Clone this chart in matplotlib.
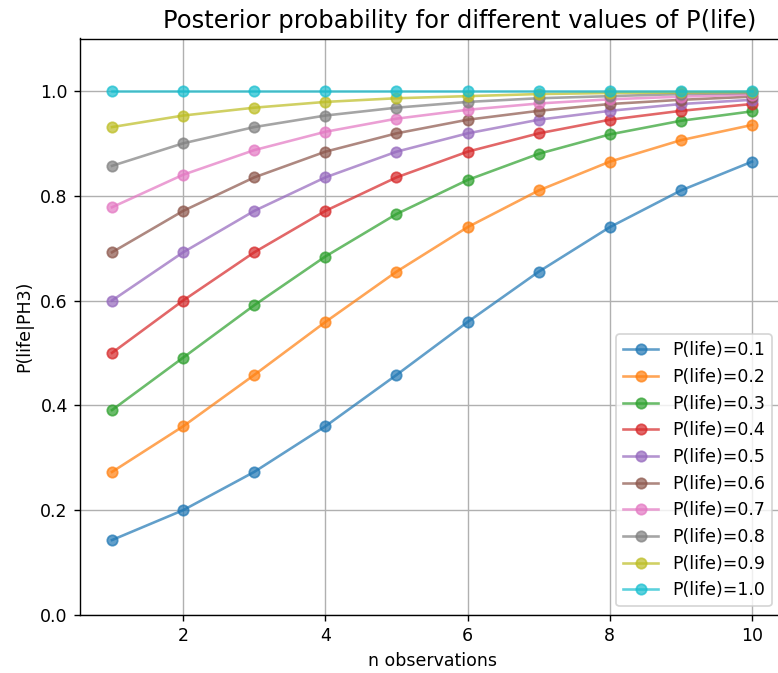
import numpy as np
import matplotlib.pyplot as plt

# n observations on the x axis
n_obs = [1, 2, 3, 4, 5, 6, 7, 8, 9, 10]

# prior values of P(life), one line each
priors = [0.1, 0.2, 0.3, 0.4, 0.5, 0.6, 0.7, 0.8, 0.9, 1.0]

# posterior P(life|PH3), one list per prior
post_01 = [0.143, 0.200, 0.273, 0.360, 0.458, 0.559, 0.655, 0.740, 0.810, 0.865]
post_02 = [0.273, 0.360, 0.458, 0.559, 0.655, 0.740, 0.810, 0.865, 0.906, 0.935]
post_03 = [0.391, 0.491, 0.591, 0.684, 0.765, 0.830, 0.880, 0.917, 0.943, 0.961]
post_04 = [0.500, 0.600, 0.692, 0.771, 0.835, 0.884, 0.919, 0.945, 0.962, 0.975]
post_05 = [0.600, 0.692, 0.771, 0.835, 0.884, 0.919, 0.945, 0.962, 0.975, 0.983]
post_06 = [0.692, 0.771, 0.835, 0.884, 0.919, 0.945, 0.962, 0.975, 0.983, 0.989]
post_07 = [0.778, 0.840, 0.887, 0.922, 0.947, 0.964, 0.976, 0.984, 0.989, 0.993]
post_08 = [0.857, 0.900, 0.931, 0.953, 0.968, 0.979, 0.986, 0.990, 0.994, 0.996]
post_09 = [0.931, 0.953, 0.968, 0.979, 0.986, 0.990, 0.994, 0.996, 0.997, 0.998]
post_10 = [1.0, 1.0, 1.0, 1.0, 1.0, 1.0, 1.0, 1.0, 1.0, 1.0]

posteriors = [post_01, post_02, post_03, post_04, post_05,
              post_06, post_07, post_08, post_09, post_10]

# reference looks like a hi-dpi notebook render, scale up via dpi
DPI = 125
W, H = 778, 673
fig = plt.figure(figsize=(W / DPI, H / DPI), dpi=DPI)
# axes runs slightly past the right edge in the reference (right spine cut off)
ax = fig.add_axes([80 / W, (H - 615) / H, 704 / W, 576.5 / H])

for p, post in zip(priors, posteriors):
    ax.plot(n_obs, post, marker='o', alpha=0.7, label=f'P(life)={p}')

ax.set_ylim(0, 1.1)
ax.set_xlabel('n observations')
ax.set_ylabel('P(life|PH3)')
# title sits a bit right of the axes centre in the reference
ax.set_title('Posterior probability for different values of P(life)',
             fontsize=14, x=0.539)
ax.legend(loc='lower right', bbox_to_anchor=(0.995, 0.0))
ax.grid(True)

fig.savefig('out.png', dpi=DPI)
